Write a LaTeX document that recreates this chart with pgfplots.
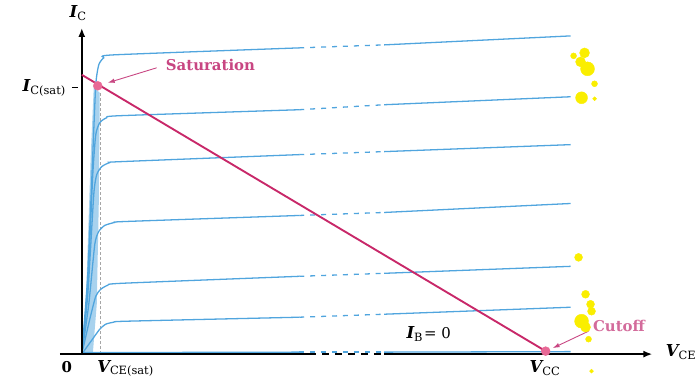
\documentclass[border=0pt]{standalone}
\usepackage{pgfplots}
\pgfplotsset{compat=1.18}
\usepackage{pgfplotstable}
\usetikzlibrary{arrows.meta}
\usepackage{fontspec}
\setmainfont{DejaVu Serif}
\definecolor{curveblue}{RGB}{80,165,222}
\definecolor{loadred}{RGB}{200,40,105}
\definecolor{dotpink}{RGB}{232,105,150}
\definecolor{txtpink}{RGB}{200,70,130}
\definecolor{blob}{RGB}{250,238,0}
\newcommand{\lbl}[2]{{\fontsize{16.5}{16}\selectfont\bfseries\itshape #1}\raisebox{-0.45ex}{\fontsize{11.5}{12}\selectfont #2}}
\newcommand{\drawcurve}[1]{%
  \addplot[curveblue, line width=1.3pt, smooth, tension=0.35, restrict x to domain=0:218] table[x=x,y=y] {#1};
  \addplot[curveblue, line width=1.3pt, dash pattern=on 5pt off 6pt, restrict x to domain=218:303] table[x=x,y=y] {#1};
  \addplot[curveblue, line width=1.3pt, restrict x to domain=303:490] table[x=x,y=y] {#1};
}

\pgfplotstableread{
x y
0 0
6 80
11 200
14 270
17 290
22 297
32 300
218 307
303 310
490 319
}\curveA
\pgfplotstableread{
x y
0 0
6 70
11 180
14 220
18 232
25 237
38 239
218 245
303 250
490 258
}\curveB
\pgfplotstableread{
x y
0 0
6 60
12 160
15 180
20 188
28 192
40 193
218 200
303 203
490 210
}\curveC
\pgfplotstableread{
x y
0 0
7 50
13 110
17 123
23 129
33 132
45 133
218 139
303 142
490 151
}\curveD
\pgfplotstableread{
x y
0 0
8 35
14 58
19 65
26 69
40 71
218 78
303 81
490 88
}\curveE
\pgfplotstableread{
x y
0 0
10 14
18 25
24 30
32 32
45 33
218 37
303 40
490 47
}\curveF
\pgfplotstableread{
x y
0 1.5
218 2
303 2
490 2.5
}\curveG
\pgfplotstableread{
x y r
493 299 3
504 302 5
500 293 5
507 286 7
514 271 3
501 257 6
514 256 2
498 97 4
505 60 4
510 50 4
511 43 4
501 33 7
505 27 5
508 15 3
511 -17 2
}\blobs

\begin{document}
\begin{tikzpicture}
\begin{axis}[
  scale only axis, width=699bp, height=383bp,
  xmin=-82, xmax=617, ymin=-28, ymax=355,
  hide axis, clip=false,
]
\path (rel axis cs:0,0) rectangle (rel axis cs:1,1);
% band of steep rises
\addplot[fill=curveblue!50, draw=none, forget plot] coordinates {(2,0) (5,80) (9,200) (12,268) (18,262) (17,150) (15,50) (11,0)} -- cycle;
% V_CE(sat) dashed
\addplot[gray!70, densely dashed, line width=0.6pt] coordinates {(19,0) (19,262)};
% curves
\drawcurve{\curveA}
\drawcurve{\curveB}
\drawcurve{\curveC}
\drawcurve{\curveD}
\drawcurve{\curveE}
\drawcurve{\curveF}
\drawcurve{\curveG}
% axes
\addplot[black, line width=2.4pt, -{Latex[length=9pt,width=7pt]}] coordinates {(0,0) (0,327)};
\addplot[black, line width=2.4pt] coordinates {(-22,0) (228,0)};
\addplot[black, line width=2.4pt, dash pattern=on 7pt off 6pt] coordinates {(228,0) (303,0)};
\addplot[black, line width=2.4pt, -{Latex[length=9pt,width=7pt]}] coordinates {(303,0) (572,0)};
\addplot[black, line width=0.8pt] coordinates {(-10,267) (-4,267)};
% load line
\addplot[loadred, line width=1.9pt] coordinates {(0,280) (465,3)};
% saturation / cutoff points
\addplot[only marks, mark=*, mark size=4.5pt, dotpink, mark options={draw=dotpink, fill=dotpink}] coordinates {(16,269) (465,3)};
% arrows
\addplot[txtpink, line width=0.9pt, -{Latex[length=7pt,width=4.5pt]}] coordinates {(75,287) (26,272)};
\addplot[txtpink, line width=0.9pt, -{Latex[length=7pt,width=4.5pt]}] coordinates {(508,23) (472,6)};
% yellow blobs
\addplot[scatter, only marks, mark=*, point meta=y,
  scatter/use mapped color={draw=blob, fill=blob},
  visualization depends on={\thisrow{r} \as \rad},
  scatter/@pre marker code/.append style={/tikz/mark size=\rad}] table[x=x,y=y] {\blobs};
% labels
\node at (axis cs:129,290) {\fontsize{15}{15}\selectfont\bfseries\color{txtpink}Saturation};
\node[anchor=west] at (axis cs:509,28) {\fontsize{15}{15}\selectfont\bfseries\color{txtpink!80}Cutoff};
\node at (axis cs:-4,342) {\lbl{I}{C}};
\node[anchor=east] at (axis cs:-13,267) {\lbl{I}{C(sat)}};
\node at (axis cs:-15,-13) {\fontsize{15}{15}\selectfont\bfseries 0};
\node[anchor=west] at (axis cs:12,-14) {\lbl{V}{CE(sat)}};
\node at (axis cs:464,-14) {\lbl{V}{CC}};
\node[anchor=west] at (axis cs:582,2) {\lbl{V}{CE}};
\node[anchor=west] at (axis cs:322,20) {\lbl{I}{B}\,{\fontsize{15}{15}\selectfont = 0}};
\end{axis}
\end{tikzpicture}
\end{document}
